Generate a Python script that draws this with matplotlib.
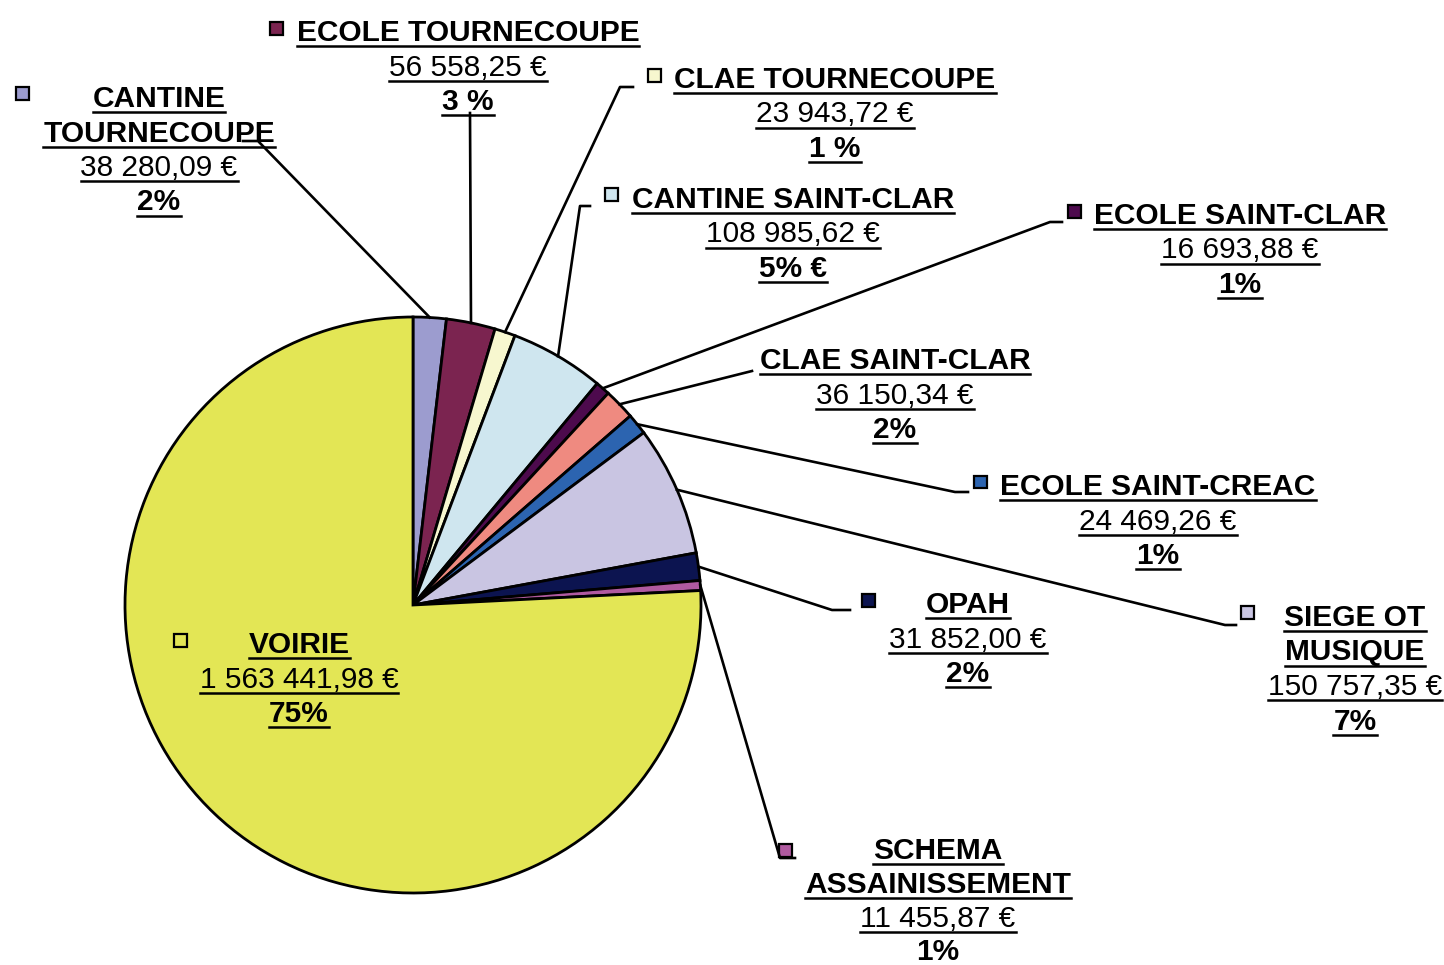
import matplotlib
matplotlib.use("Agg")
import matplotlib.pyplot as plt
from matplotlib.lines import Line2D
from matplotlib.patches import Rectangle
import numpy as np

plt.rcParams['font.family'] = ['Liberation Sans', 'DejaVu Sans']

# data
names = ["CANTINE\nTOURNECOUPE", "ECOLE TOURNECOUPE", "CLAE TOURNECOUPE",
         "CANTINE SAINT-CLAR", "ECOLE SAINT-CLAR", "CLAE SAINT-CLAR",
         "ECOLE SAINT-CREAC", "SIEGE OT\nMUSIQUE", "OPAH",
         "SCHEMA\nASSAINISSEMENT", "VOIRIE"]
values = [38280.09, 56558.25, 23943.72, 108985.62, 16693.88, 36150.34,
          24469.26, 150757.35, 31852.00, 11455.87, 1563441.98]
amounts = ["38 280,09 €", "56 558,25 €", "23 943,72 €", "108 985,62 €",
           "16 693,88 €", "36 150,34 €", "24 469,26 €", "150 757,35 €",
           "31 852,00 €", "11 455,87 €", "1 563 441,98 €"]
percents = ["2%", "3 %", "1 %", "5% €", "1%", "2%", "1%", "7%", "2%", "1%", "75%"]
colors = ["#9c9ccf", "#7b2450", "#f7f7cf", "#cfe6ef", "#4d0a4d", "#ef8a80",
          "#2c64b0", "#c9c5e2", "#0c1450", "#b05aa0", "#e3e655"]

W, H = 1444, 965
fig = plt.figure(figsize=(W / 100, H / 100), dpi=100)
fig.patch.set_facecolor("white")

# pie: centre (413, 605), radius 288 px
cx, cy, r = 413, 605, 288
ax = fig.add_axes([(cx - r) / W, (H - cy - r) / H, 2 * r / W, 2 * r / H])
wedges, _ = ax.pie(values, colors=colors, startangle=90, counterclock=False,
                   radius=1.0, wedgeprops=dict(edgecolor="black", linewidth=2.0))
ax.set_xlim(-1, 1)
ax.set_ylim(-1, 1)
ax.set_aspect("equal")
ax.axis("off")

# label layout: marker position, text centre x, first baseline y, show marker
layout = [
    ((22, 93), 159, 107, True),
    ((276, 28), 468, 41, True),
    ((654, 75), 835, 88, True),
    ((611, 194), 793, 208, True),
    ((1074, 211), 1240, 224, True),
    (None, 895, 369, False),
    ((980, 482), 1158, 495, True),
    ((1247, 612), 1355, 626, True),
    ((868, 600), 968, 613, True),
    ((785, 850), 938, 859, True),
    ((180, 640), 299, 653, True),
]
leaders = [
    [(243, 141), (258, 141)],
    [(470, 113)],
    [(633, 87), (620, 87)],
    [(590, 206), (580, 206)],
    [(1062, 222), (1050, 222)],
    [(752, 371)],
    [(968, 492), (955, 492)],
    [(1236, 625), (1225, 625)],
    [(850, 610), (832, 610)],
    [(795, 858), (780, 858)],
    [],
]

def fx(x):
    return x / W

def fy(y):
    return 1 - y / H

fig.canvas.draw()
renderer = fig.canvas.get_renderer()
fs = 21.5

for i, name in enumerate(names):
    marker, tx, by, show = layout[i]
    step = 33.8 if i == 9 else 34.5
    lines = [(t, "bold") for t in name.split("\n")]
    lines.append((amounts[i], "normal"))
    lines.append((percents[i], "bold"))
    for j, (t, wt) in enumerate(lines):
        y = by + j * step
        txt = fig.text(fx(tx), fy(y), t, ha="center", va="baseline",
                       fontsize=fs, fontweight=wt, color="black")
        underline = not (i == 9 and j == len(lines) - 1)
        if underline:
            bb = txt.get_window_extent(renderer)
            uy = fy(y + 5)
            fig.lines.append(Line2D([bb.x0 / W, bb.x1 / W], [uy, uy],
                                    transform=fig.transFigure, color="black",
                                    linewidth=1.8))
    if show and marker is not None:
        mx, my = marker
        s = 13
        fig.patches.append(Rectangle((fx(mx - s / 2), fy(my + s / 2)), s / W, s / H,
                                     transform=fig.transFigure, facecolor=colors[i],
                                     edgecolor="black", linewidth=1.6))

# leader lines from label to wedge edge
for i, pts in enumerate(leaders):
    if not pts:
        continue
    w = wedges[i]
    mid = np.deg2rad((w.theta1 + w.theta2) / 2)
    ex, ey = ax.transData.transform((np.cos(mid), np.sin(mid)))
    xs = [fx(p[0]) for p in pts] + [ex / W]
    ys = [fy(p[1]) for p in pts] + [ey / H]
    fig.lines.append(Line2D(xs, ys, transform=fig.transFigure, color="black",
                            linewidth=1.9))

fig.savefig("out.png", dpi=100, facecolor="white")
